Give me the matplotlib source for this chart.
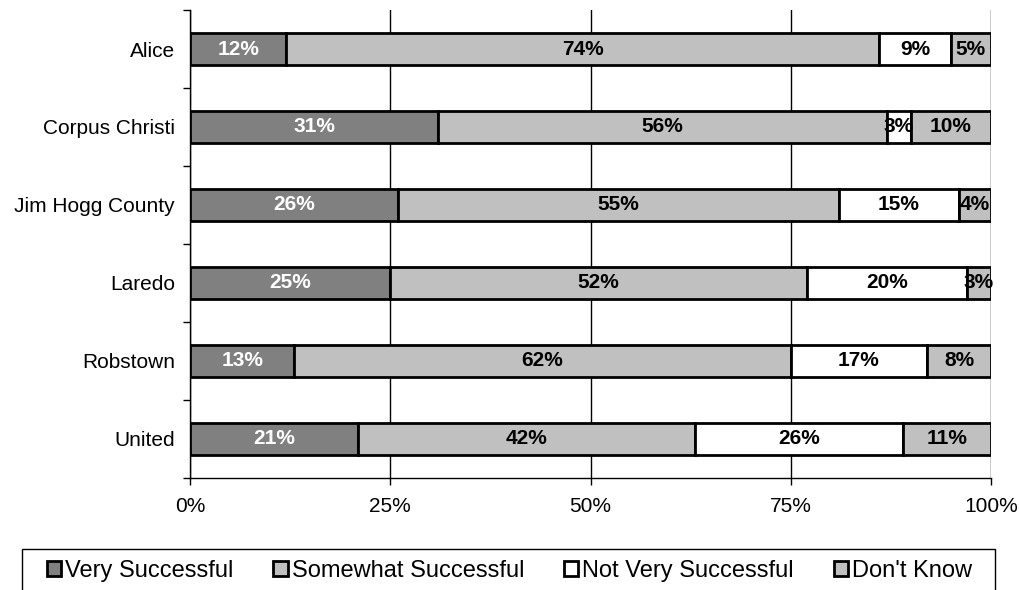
import numpy as np
import matplotlib.pyplot as plt
from matplotlib.patches import Rectangle

plt.rcParams['font.family'] = ['Liberation Sans', 'DejaVu Sans']

towns = ['Alice', 'Corpus Christi', 'Jim Hogg County', 'Laredo', 'Robstown', 'United']
very = [12, 31, 26, 25, 13, 21]
somewhat = [74, 56, 55, 52, 62, 42]
not_very = [9, 3, 15, 20, 17, 26]
dont_know = [5, 10, 4, 3, 8, 11]

series = [('Very Successful', very, '#808080', 'white'),
          ('Somewhat Successful', somewhat, '#c0c0c0', 'black'),
          ('Not Very Successful', not_very, '#ffffff', 'black'),
          ("Don't Know", dont_know, '#c0c0c0', 'black')]

fig = plt.figure(figsize=(10.19, 5.9), dpi=100)
ax = fig.add_axes([0.1865, 0.19, 0.786, 0.793])

y = np.arange(len(towns))[::-1] + 0.5
left = np.zeros(len(towns))
handles = []
for name, vals, col, tcol in series:
    vals = np.array(vals)
    bars = ax.barh(y, vals / 100, left=left / 100, height=0.41, color=col,
                   edgecolor='black', linewidth=2, label=name, zorder=3)
    handles.append(bars)
    for yi, l, v in zip(y, left, vals):
        ax.text((l + v / 2) / 100, yi, f'{v}%', ha='center', va='center',
                color=tcol, fontsize=15, fontweight='bold', zorder=4)
    left = left + vals

ax.set_xlim(0, 1)
ax.set_ylim(0, len(towns))
ax.set_xticks([0, 0.25, 0.5, 0.75, 1])
ax.set_xticklabels(['0%', '25%', '50%', '75%', '100%'], fontsize=15)
ax.tick_params(axis='x', length=5, width=1, pad=9)
ax.xaxis.grid(True, color='black', linewidth=1, zorder=0)

# category boundaries get the tick marks, labels sit in between
ax.set_yticks(np.arange(len(towns) + 1))
ax.set_yticklabels([])
ax.set_yticks(y, minor=True)
ax.set_yticklabels(towns, minor=True, fontsize=15)
ax.tick_params(axis='y', which='major', length=5, width=1)
ax.tick_params(axis='y', which='minor', length=0, pad=11)

for s in ['top', 'right']:
    ax.spines[s].set_visible(False)
for s in ['left', 'bottom']:
    ax.spines[s].set_color('black')
    ax.spines[s].set_linewidth(1)

# legend box across the bottom
fig.patches.append(Rectangle((22 / 1019, -0.02), 973 / 1019, 0.0895,
                             transform=fig.transFigure, fill=False,
                             edgecolor='black', linewidth=1))
fig.legend(handles=handles, loc='center', bbox_to_anchor=(0.5, 0.033),
           ncol=4, frameon=False, fontsize=17, handlelength=0.6,
           handleheight=0.6, handletextpad=0.17, columnspacing=1.7,
           borderpad=0)

fig.savefig('out.png', dpi=100)
